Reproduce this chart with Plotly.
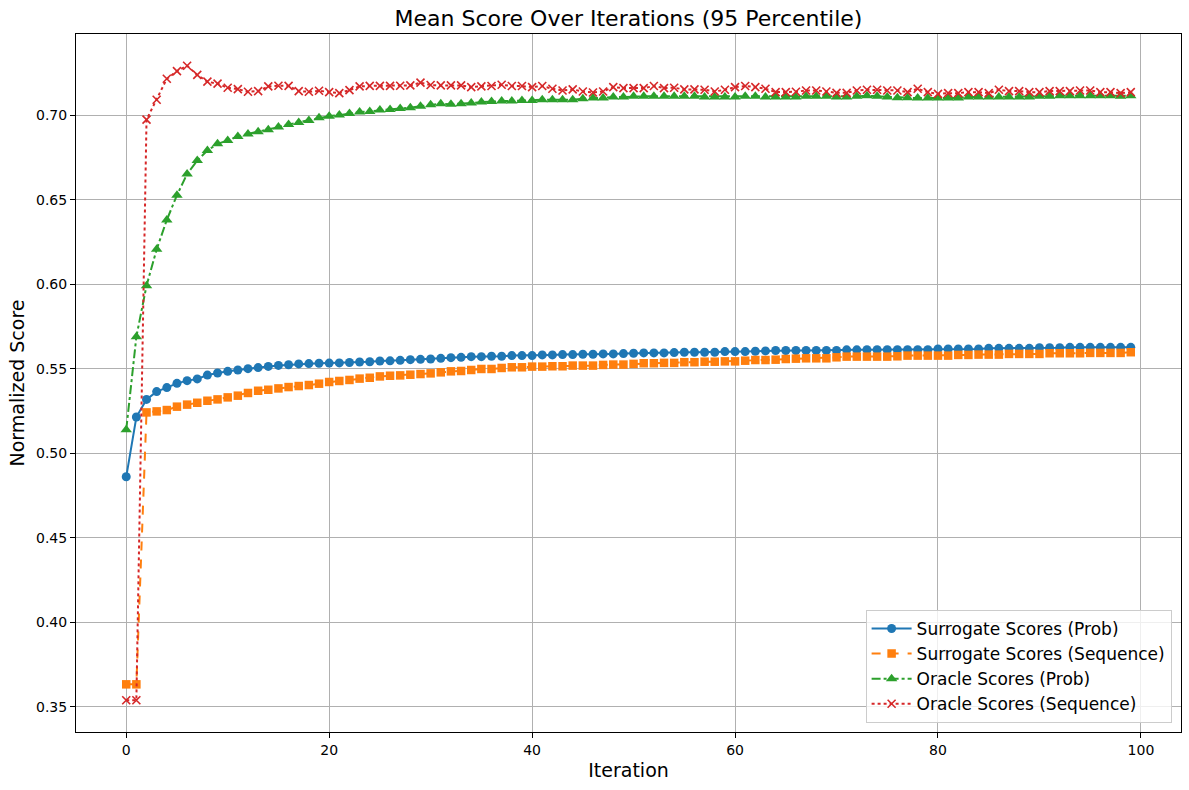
import plotly.graph_objects as go

# Iterations 0..99
iterations = list(range(100))

surrogate_prob = [
    0.4862, 0.5216, 0.5320, 0.5366, 0.5390, 0.5415, 0.5431, 0.5441, 0.5464, 0.5476,
    0.5486, 0.5494, 0.5502, 0.5508, 0.5515, 0.5521, 0.5525, 0.5530, 0.5532, 0.5534,
    0.5535, 0.5536, 0.5538, 0.5541, 0.5543, 0.5547, 0.5548, 0.5551, 0.5555, 0.5557,
    0.5559, 0.5563, 0.5567, 0.5569, 0.5573, 0.5573, 0.5575, 0.5575, 0.5579, 0.5579,
    0.5579, 0.5583, 0.5583, 0.5585, 0.5585, 0.5587, 0.5587, 0.5589, 0.5589, 0.5591,
    0.5593, 0.5595, 0.5595, 0.5595, 0.5597, 0.5599, 0.5599, 0.5599, 0.5599, 0.5603,
    0.5603, 0.5603, 0.5605, 0.5607, 0.5609, 0.5609, 0.5609, 0.5609, 0.5609, 0.5609,
    0.5609, 0.5613, 0.5613, 0.5614, 0.5614, 0.5614, 0.5614, 0.5614, 0.5614, 0.5614,
    0.5618, 0.5618, 0.5618, 0.5618, 0.5618, 0.5622, 0.5622, 0.5622, 0.5622, 0.5622,
    0.5626, 0.5626, 0.5626, 0.5628, 0.5628, 0.5628, 0.5628, 0.5628, 0.5628, 0.5628,
]

surrogate_seq = [
    0.3634, 0.3634, 0.5243, 0.5249, 0.5257, 0.5277, 0.5289, 0.5300, 0.5312, 0.5320,
    0.5332, 0.5342, 0.5358, 0.5371, 0.5377, 0.5385, 0.5393, 0.5399, 0.5405, 0.5413,
    0.5423, 0.5429, 0.5435, 0.5443, 0.5448, 0.5456, 0.5460, 0.5462, 0.5466, 0.5470,
    0.5474, 0.5480, 0.5486, 0.5488, 0.5494, 0.5500, 0.5500, 0.5506, 0.5510, 0.5510,
    0.5514, 0.5514, 0.5516, 0.5516, 0.5520, 0.5520, 0.5520, 0.5524, 0.5526, 0.5526,
    0.5530, 0.5534, 0.5534, 0.5536, 0.5536, 0.5540, 0.5540, 0.5543, 0.5543, 0.5545,
    0.5545, 0.5549, 0.5553, 0.5553, 0.5555, 0.5559, 0.5561, 0.5563, 0.5563, 0.5563,
    0.5569, 0.5573, 0.5573, 0.5573, 0.5573, 0.5573, 0.5575, 0.5579, 0.5579, 0.5579,
    0.5579, 0.5579, 0.5583, 0.5583, 0.5585, 0.5585, 0.5585, 0.5589, 0.5589, 0.5589,
    0.5589, 0.5593, 0.5593, 0.5593, 0.5593, 0.5595, 0.5595, 0.5595, 0.5595, 0.5599,
]

oracle_prob = [
    0.5140, 0.5691, 0.5993, 0.6208, 0.6382, 0.6528, 0.6654, 0.6733, 0.6793, 0.6832,
    0.6852, 0.6876, 0.6891, 0.6903, 0.6915, 0.6931, 0.6947, 0.6959, 0.6970, 0.6986,
    0.6996, 0.7002, 0.7012, 0.7020, 0.7024, 0.7032, 0.7036, 0.7041, 0.7045, 0.7055,
    0.7063, 0.7069, 0.7067, 0.7069, 0.7073, 0.7079, 0.7083, 0.7085, 0.7085, 0.7089,
    0.7089, 0.7093, 0.7093, 0.7093, 0.7093, 0.7099, 0.7103, 0.7103, 0.7109, 0.7109,
    0.7113, 0.7113, 0.7113, 0.7113, 0.7113, 0.7113, 0.7113, 0.7109, 0.7109, 0.7109,
    0.7109, 0.7113, 0.7113, 0.7109, 0.7109, 0.7109, 0.7109, 0.7113, 0.7113, 0.7113,
    0.7109, 0.7109, 0.7113, 0.7117, 0.7113, 0.7109, 0.7105, 0.7105, 0.7103, 0.7103,
    0.7103, 0.7103, 0.7103, 0.7109, 0.7109, 0.7109, 0.7109, 0.7109, 0.7109, 0.7109,
    0.7113, 0.7113, 0.7117, 0.7117, 0.7117, 0.7117, 0.7117, 0.7117, 0.7113, 0.7117,
]

oracle_seq = [
    0.3540, 0.3540, 0.6975, 0.7093, 0.7217, 0.7262, 0.7294, 0.7240, 0.7200, 0.7188,
    0.7164, 0.7156, 0.7140, 0.7144, 0.7172, 0.7176, 0.7175, 0.7144, 0.7140, 0.7146,
    0.7138, 0.7132, 0.7150, 0.7172, 0.7175, 0.7175, 0.7175, 0.7176, 0.7178, 0.7194,
    0.7180, 0.7178, 0.7178, 0.7178, 0.7168, 0.7172, 0.7174, 0.7182, 0.7174, 0.7174,
    0.7168, 0.7174, 0.7158, 0.7148, 0.7154, 0.7142, 0.7136, 0.7142, 0.7168, 0.7162,
    0.7162, 0.7162, 0.7174, 0.7162, 0.7164, 0.7154, 0.7154, 0.7152, 0.7142, 0.7152,
    0.7168, 0.7174, 0.7168, 0.7158, 0.7138, 0.7138, 0.7140, 0.7148, 0.7148, 0.7142,
    0.7134, 0.7134, 0.7148, 0.7152, 0.7152, 0.7148, 0.7148, 0.7138, 0.7158, 0.7138,
    0.7128, 0.7132, 0.7132, 0.7138, 0.7138, 0.7132, 0.7152, 0.7144, 0.7144, 0.7138,
    0.7138, 0.7144, 0.7144, 0.7144, 0.7148, 0.7148, 0.7138, 0.7138, 0.7132, 0.7138,
]

x_ticks = [0, 20, 40, 60, 80, 100]
y_ticks = [0.35, 0.40, 0.45, 0.50, 0.55, 0.60, 0.65, 0.70]

FONT = "DejaVu Sans"

fig = go.Figure()

fig.add_trace(go.Scatter(
    x=iterations, y=surrogate_prob, mode="lines+markers",
    name="Surrogate Scores (Prob)",
    line=dict(color="#1f77b4", width=2, dash="solid"),
    marker=dict(symbol="circle", size=9, color="#1f77b4"),
))
fig.add_trace(go.Scatter(
    x=iterations, y=surrogate_seq, mode="lines+markers",
    name="Surrogate Scores (Sequence)",
    line=dict(color="#ff7f0e", width=2, dash="dash"),
    marker=dict(symbol="square", size=8.5, color="#ff7f0e"),
))
fig.add_trace(go.Scatter(
    x=iterations, y=oracle_prob, mode="lines+markers",
    name="Oracle Scores (Prob)",
    line=dict(color="#2ca02c", width=2, dash="dashdot"),
    marker=dict(symbol="triangle-up", size=10, color="#2ca02c"),
))
fig.add_trace(go.Scatter(
    x=iterations, y=oracle_seq, mode="lines+markers",
    name="Oracle Scores (Sequence)",
    line=dict(color="#d62728", width=2, dash="dot"),
    marker=dict(symbol="x-thin", size=8, color="#d62728",
                line=dict(color="#d62728", width=1.6)),
))

fig.update_layout(
    width=1189, height=790,
    margin=dict(l=76, r=8, t=34, b=58),
    paper_bgcolor="white", plot_bgcolor="white",
    font=dict(family=FONT, size=14, color="black"),
    title=dict(
        text="Mean Score Over Iterations (95 Percentile)",
        x=0.5, xref="paper", xanchor="center",
        y=1 - 18 / 790, yref="container", yanchor="middle",
        font=dict(family=FONT, size=22, color="black"),
    ),
    showlegend=True,
    legend=dict(
        x=0.9915, y=0.013, xanchor="right", yanchor="bottom",
        bgcolor="rgba(255,255,255,0.8)", bordercolor="#cccccc", borderwidth=1,
        font=dict(family=FONT, size=17, color="black"),
        itemwidth=40, tracegroupgap=0,
    ),
)

fig.update_xaxes(
    range=[-4.95, 103.95], tickvals=x_ticks, ticktext=[str(t) for t in x_ticks],
    showgrid=True, gridcolor="#b0b0b0", gridwidth=1,
    showline=True, linecolor="black", linewidth=1, mirror=True,
    ticks="outside", ticklen=5, tickcolor="black", zeroline=False,
    tickfont=dict(family=FONT, size=14),
    title=dict(text="Iteration", font=dict(family=FONT, size=19), standoff=6),
)
fig.update_yaxes(
    range=[0.3352, 0.7482], tickvals=y_ticks, ticktext=[f"{t:.2f}" for t in y_ticks],
    showgrid=True, gridcolor="#b0b0b0", gridwidth=1,
    showline=True, linecolor="black", linewidth=1, mirror=True,
    ticks="outside", ticklen=5, tickcolor="black", zeroline=False,
    tickfont=dict(family=FONT, size=14),
    title=dict(text="Normalized Score", font=dict(family=FONT, size=19), standoff=6),
)

# drop the default 8px page margin so the figure fills the window exactly
fig.write_html(
    "out.html",
    config={"displayModeBar": False},
    post_script="document.body.style.margin = '0';",
)
